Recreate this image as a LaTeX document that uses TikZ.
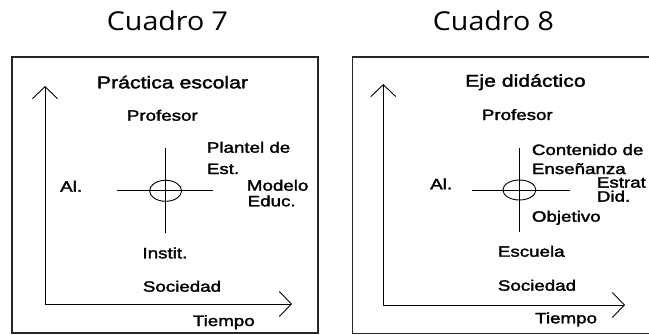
\documentclass[tikz,border=0pt]{standalone}
\usepackage{amsmath,amssymb,tikz}
\usepackage{fontspec}
\setmainfont{Liberation Sans}[FakeStretch=1.25,FakeBold=2]
\newfontfamily\cuadrofont{Open Sans}[FakeStretch=1.1]
\usetikzlibrary{arrows,arrows.meta,shapes}

\begin{document}
\begin{tikzpicture}[x=1pt, y=-1pt]
          % fixed frame, so both panels keep their place
          \useasboundingbox (0,0) rectangle (649,335);
          \tikzstyle{cuadro} = [anchor=base, inner sep=0pt, font=\cuadrofont\fontsize{26}{30}\selectfont]
      \tikzstyle{heading} = [anchor=base west, inner sep=0pt, font=\fontsize{17}{20}\selectfont]
      \tikzstyle{word} = [anchor=base west, inner sep=0pt, font=\fontsize{15}{18}\selectfont]
      \tikzstyle{frame} = [draw, line width=1.1pt, black!85]
      \tikzstyle{axis} = [draw, line width=0.9pt, >={Straight Barb[length=12pt,width=25pt]}, <->]
      \tikzstyle{hub} = [ellipse, draw, line width=0.9pt, minimum width=32pt, minimum height=21pt, inner sep=0pt]
      \tikzstyle{cross} = [draw, line width=0.9pt]
        % Cuadro 7
        \node [cuadro] (cuadro7) at (167.5,30) {Cuadro 7};
        \draw [frame] (12,57) rectangle (318,333);
        \coordinate (ytip7) at (45,86);
        \coordinate (xtip7) at (292,304);
        \path [axis] (ytip7) |- (xtip7);
        \node [heading] (practica) at (96.7,88.3) {Práctica escolar};
        \node [word] (profesor7) at (126.7,120.7) {Profesor};
        \node [word] (plantel) at (206.7,152.7) {Plantel de};
        \node [word] (est) at ([yshift=-21.3pt]plantel.base west) {Est.};
        \node [word] (al7) at (60,191.7) {Al.};
        \node [word] (modelo) at (246.7,190.7) {Modelo};
        \node [word] (educ) at ([xshift=0.8pt,yshift=-15.6pt]modelo.base west) {Educ.};
        \node [word] (instit) at (142.3,258.3) {Instit.};
        \node [word] (sociedad7) at (142.7,291.7) {Sociedad};
        \node [word] (tiempo7) at (192.7,326) {Tiempo};
        \node [hub] (hub7) at (165.6,190.8) {};
        \path [cross] (hub7.center) ++(0,-42.5) -- ++(0,84.7);
        \path [cross] (hub7.center) ++(-49,-0.5) -- ++(96.6,0);
        % Cuadro 8
        \node [cuadro] (cuadro8) at (493.5,30) {Cuadro 8};
        \draw [frame] (649,57) -| (352.5,333.3) -- (649,333.3);
        \coordinate (ytip8) at (383.3,84);
        \coordinate (xtip8) at (625,305);
        \path [axis] (ytip8) |- (xtip8);
        \node [heading] (eje) at (465,86.7) {Eje didáctico};
        \node [word] (profesor8) at (481.7,120) {Profesor};
        \node [word] (contenido) at (531.7,155) {Contenido de};
        \node [word] (ensenanza) at ([yshift=-19pt]contenido.base west) {Enseñanza};
        \node [word] (al8) at (430,189.3) {Al.};
        \node [word] (estrat) at (596.7,187.6) {Estrat};
        \node [word] (did) at ([yshift=-14pt]estrat.base west) {Did.};
        \node [word] (objetivo) at (531.7,221.7) {Objetivo};
        \node [word] (escuela) at (497.7,256.7) {Escuela};
        \node [word] (sociedad8) at (497.7,290.7) {Sociedad};
        \node [word] (tiempo8) at (535,323.3) {Tiempo};
        \node [hub, minimum width=33pt, minimum height=20pt] (hub8) at (519.4,190) {};
        \path [cross] (hub8.center) ++(0,-41.7) -- ++(0,83.4);
        \path [cross] (hub8.center) ++(-47.4,0) -- ++(98,0);
      \end{tikzpicture}
\end{document}
